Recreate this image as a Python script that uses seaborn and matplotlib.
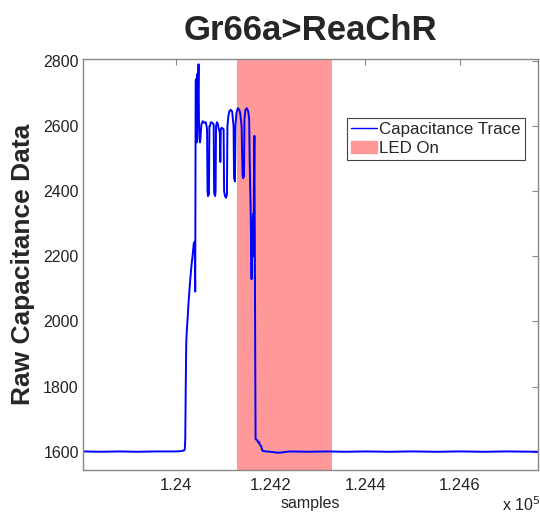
import numpy as np
import pandas as pd
import seaborn as sns
import matplotlib.pyplot as plt
from matplotlib.patches import Patch
from matplotlib.lines import Line2D
from matplotlib.ticker import FuncFormatter

# pontos (amostra, capacitancia)
amostras = [123804, 123840, 123880, 123920, 123960, 124000, 124012, 124017, 124019,
            124020, 124021, 124022, 124023, 124025, 124027, 124030, 124033, 124036,
            124038, 124040, 124041, 124041.5, 124042, 124043, 124044, 124045, 124046,
            124047, 124048, 124049, 124050, 124051, 124052, 124054, 124057, 124060,
            124063, 124065, 124066, 124067, 124068, 124069, 124070, 124071, 124072,
            124074, 124077, 124080, 124081, 124083, 124084, 124085, 124087, 124089,
            124091, 124093, 124094, 124095, 124097, 124101, 124102, 124104, 124106,
            124108, 124109, 124111, 124113, 124116, 124119, 124120, 124122, 124123,
            124125, 124126, 124128, 124131, 124134, 124136, 124139, 124141, 124142,
            124144, 124145, 124147, 124150, 124153, 124155, 124156, 124157, 124158,
            124159, 124160, 124161, 124162, 124163, 124164, 124165, 124166, 124167,
            124168, 124168.5, 124169, 124172, 124174, 124176, 124178, 124180, 124183,
            124190, 124200, 124215, 124225, 124240, 124280, 124320, 124360, 124400,
            124450, 124500, 124550, 124600, 124650, 124700, 124765]
capacitancia = [1601, 1600, 1601, 1600, 1601, 1601, 1602, 1604, 1607,
                1640, 1800, 1930, 1965, 2010, 2060, 2120, 2170, 2210,
                2240, 2245, 2092, 2400, 2740, 2745, 2550, 2760, 2750,
                2700, 2790, 2600, 2560, 2550, 2560, 2605, 2615, 2610,
                2612, 2600, 2590, 2400, 2385, 2395, 2390, 2600, 2600,
                2612, 2610, 2605, 2395, 2385, 2400, 2600, 2612, 2605,
                2590, 2580, 2490, 2590, 2595, 2590, 2400, 2385, 2380,
                2390, 2600, 2630, 2645, 2650, 2645, 2630, 2600, 2440,
                2430, 2600, 2640, 2655, 2650, 2640, 2600, 2450, 2440,
                2445, 2620, 2650, 2655, 2645, 2620, 2500, 2420, 2350,
                2250, 2130, 2300, 2260, 2330, 2200, 2400, 2570, 2200,
                1800, 1640, 1638, 1636, 1628, 1630, 1620, 1618, 1603,
                1601, 1600, 1597, 1598, 1601, 1600, 1601, 1600, 1601,
                1600, 1601, 1600, 1601, 1600, 1601, 1600]

led_inicio, led_fim = 124129, 124329
xticks = [124000, 124200, 124400, 124600]
yticks = [1600, 1800, 2000, 2200, 2400, 2600, 2800]

df = pd.DataFrame({'amostra': amostras, 'cap': capacitancia})

sns.set_style('white')
plt.rcParams['font.family'] = ['Liberation Sans', 'DejaVu Sans']

fig = plt.figure(figsize=(5.4, 5.14), dpi=100)
ax = fig.add_axes([83/540, 44/514, 455/540, 411/514])

ax.axvspan(led_inicio, led_fim, color='#ff9898', lw=0, zorder=1)
sns.lineplot(data=df, x='amostra', y='cap', ax=ax, color='#0000ff', lw=1.4,
             estimator=None, sort=False, zorder=2)

ax.set_xlim(123804, 124765)
ax.set_ylim(1544, 2806)
ax.set_xticks(xticks)
ax.set_yticks(yticks)
ax.xaxis.set_major_formatter(FuncFormatter(lambda v, p: f'{v/1e5:g}'))
ax.tick_params(direction='in', length=4, top=True, right=True, color='#888888',
               labelcolor='#222222')
ax.tick_params(axis='x', labelsize=12, pad=6)
ax.tick_params(axis='y', labelsize=11.5, pad=3)
for s in ax.spines.values():
    s.set_color('#888888')
    s.set_linewidth(1)

ax.set_xlabel('samples', fontsize=11.5, labelpad=2)
ax.set_ylabel('Raw Capacitance Data', fontsize=19, fontweight='bold', labelpad=6)
ax.set_title('Gr66a>ReaChR', fontsize=25, fontweight='bold', pad=14)
fig.text(502/540, 3/514, r'x 10$^{5}$', fontsize=11.5, color='#222222')

handles = [Line2D([], [], color='#0000ff', lw=1), Patch(color='#ff9898')]
leg = ax.legend(handles, ['Capacitance Trace', 'LED On'], loc='upper left',
                bbox_to_anchor=(0.58, 0.856), fontsize=12.2, frameon=True,
                fancybox=False, framealpha=1, edgecolor='#444444',
                handlelength=1.5, handletextpad=0.15, borderpad=0.25,
                labelspacing=0.2, borderaxespad=0)
leg.get_frame().set_linewidth(0.8)

fig.savefig('out.png', dpi=100)
